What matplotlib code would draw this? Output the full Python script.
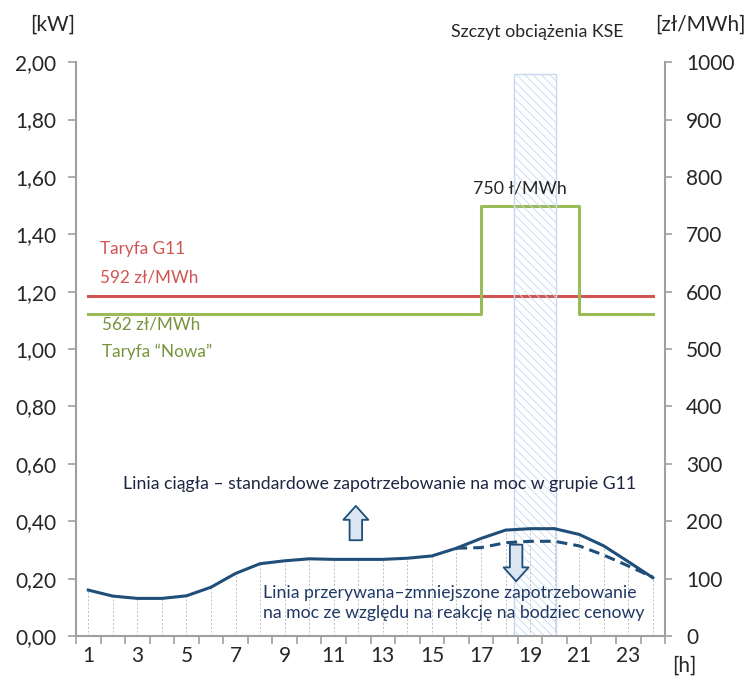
import matplotlib
matplotlib.use("Agg")
import matplotlib.pyplot as plt

plt.rcParams['font.family'] = ['Lato', 'DejaVu Sans']
plt.rcParams['hatch.linewidth'] = 0.6

# hours of the day
hours = list(range(1, 25))
# standard demand (solid line), kW
demand = [0.160, 0.139, 0.131, 0.131, 0.140, 0.170, 0.218, 0.252, 0.262, 0.269,
          0.267, 0.267, 0.267, 0.271, 0.279, 0.306, 0.340, 0.369, 0.374, 0.374,
          0.354, 0.314, 0.259, 0.203]
# reduced demand (dashed line), from hour 16 on
reduced_hours = list(range(16, 25))
reduced = [0.306, 0.308, 0.325, 0.330, 0.330, 0.314, 0.282, 0.244, 0.205]
# tariffs, zł/MWh
tariff_g11 = [592] * 24
tariff_new = [562, 562, 562, 562, 562, 562, 562, 562, 562, 562, 562, 562,
              562, 562, 562, 562, 750, 750, 750, 750, 562, 562, 562, 562]
# KSE peak load window
peak_start, peak_end, peak_top = 18.35, 20.05, 1.958

left_ticks = [0, 0.2, 0.4, 0.6, 0.8, 1.0, 1.2, 1.4, 1.6, 1.8, 2.0]
right_ticks = [0, 100, 200, 300, 400, 500, 600, 700, 800, 900, 1000]
xtick_labels = [1, 3, 5, 7, 9, 11, 13, 15, 17, 19, 21, 23]

navy = '#1F4E79'
red = '#CF5452'
green = '#9BBB59'
spine = '#A0A0A0'
txt = '#262626'

fig = plt.figure(figsize=(7.49, 6.76), dpi=100)
ax = fig.add_axes([0.1015, 0.0592, 0.7865, 0.8488])
ax2 = ax.twinx()

# peak window
ax.bar((peak_start + peak_end) / 2, peak_top, width=peak_end - peak_start,
       color='none', edgecolor='#C5D9F1', hatch='\\\\\\\\', linewidth=1.0, zorder=1)

# drop lines
ax.vlines(hours, 0, demand, colors='#BFBFBF', linestyles=(0, (2, 2)), linewidth=0.7, zorder=2)

ax.plot(reduced_hours, reduced, color=navy, lw=2.2, ls=(0, (3.5, 2)), zorder=4)
ax.plot(hours, demand, color=navy, lw=2.2, zorder=5)

# tariffs on right axis
ax2.plot(hours, tariff_g11, color=red, lw=2.2)
ax2.plot(hours, tariff_new, color=green, lw=2.2, drawstyle='steps-post')

ax.set_xlim(0.5, 24.5)
ax.set_ylim(0, 2.0)
ax2.set_ylim(0, 1000)

ax.set_yticks(left_ticks)
ax.set_yticklabels([f"{v:.2f}".replace('.', ',') for v in left_ticks])
ax2.set_yticks(right_ticks)
ax2.set_yticklabels([str(v) for v in right_ticks])

ax.set_xticks([h + 0.5 for h in range(0, 25)], minor=False)
ax.set_xticklabels([])
ax.set_xticks(xtick_labels, minor=True)
ax.set_xticklabels([str(v) for v in xtick_labels], minor=True)
ax.tick_params(axis='x', which='major', direction='out', length=6, color=spine, width=1.2)
ax.tick_params(axis='x', which='minor', length=0, labelsize=15, labelcolor=txt, pad=7)
ax.tick_params(axis='y', direction='out', length=6, color=spine, width=1.2,
               labelsize=15, labelcolor=txt, pad=8)
ax2.tick_params(axis='y', direction='out', length=5, color=spine, width=1.2,
                labelsize=15, labelcolor=txt, pad=10)

for a in (ax, ax2):
    a.spines['top'].set_visible(False)
    for s in ('left', 'right', 'bottom'):
        a.spines[s].set_color(spine)
        a.spines[s].set_linewidth(1.5)
ax.spines['right'].set_visible(False)
ax2.spines['left'].set_visible(False)
ax2.spines['bottom'].set_visible(False)
ax2.set_zorder(ax.get_zorder() - 1)
ax.patch.set_visible(False)

# tariff labels (placed in right-axis units, drawn on top)
tr = ax2.transData
ax.text(1.48, 674, "Taryfa G11", color=red, fontsize=12.3, va='center', transform=tr)
ax.text(1.48, 624, "592 zł/MWh", color=red, fontsize=12.3, va='center', transform=tr)
ax.text(1.55, 542, "562 zł/MWh", color='#77933C', fontsize=12.3, va='center', transform=tr)
ax.text(1.55, 495, "Taryfa \u201cNowa\u201d", color='#77933C', fontsize=12.3, va='center', transform=tr)
ax.text(18.6, 779, "750 ł/MWh", color=txt, fontsize=12.8, va='center', ha='center',
        transform=tr, zorder=10)

# annotations
ax.text(12.85, 0.53, "Linia ciągła – standardowe zapotrzebowanie na moc w grupie G11",
        color='#1C2541', fontsize=12.7, ha='center', va='center')
ax.text(8.1, 0.150, "Linia przerywana–zmniejszone zapotrzebowanie",
        color='#1F3864', fontsize=12.7, ha='left', va='center')
ax.text(8.1, 0.080, "na moc ze względu na reakcję na bodziec cenowy",
        color='#1F3864', fontsize=12.7, ha='left', va='center')

arrow_style = 'simple,head_width=1.8,head_length=1.0,tail_width=0.9'
ax.annotate('', xy=(11.9, 0.463), xytext=(11.9, 0.324),
            arrowprops=dict(arrowstyle=arrow_style, fc='#DCE6F2', ec=navy, lw=1.3), zorder=6)
ax.annotate('', xy=(18.43, 0.181), xytext=(18.43, 0.328),
            arrowprops=dict(arrowstyle=arrow_style, fc='#DCE6F2', ec=navy, lw=1.3), zorder=6)

# axis unit labels
fig.text(53 / 749, 1 - 25 / 676, "[kW]", fontsize=15, color=txt, ha='center', va='center')
fig.text(700 / 749, 1 - 25 / 676, "[zł/MWh]", fontsize=15, color=txt, ha='center', va='center')
fig.text(537 / 749, 1 - 32 / 676, "Szczyt obciążenia KSE", fontsize=12.8, color=txt, ha='center', va='center')
fig.text(684 / 749, 1 - 666 / 676, "[h]", fontsize=15, color=txt, ha='center', va='center')

fig.savefig("out.png", dpi=100)
